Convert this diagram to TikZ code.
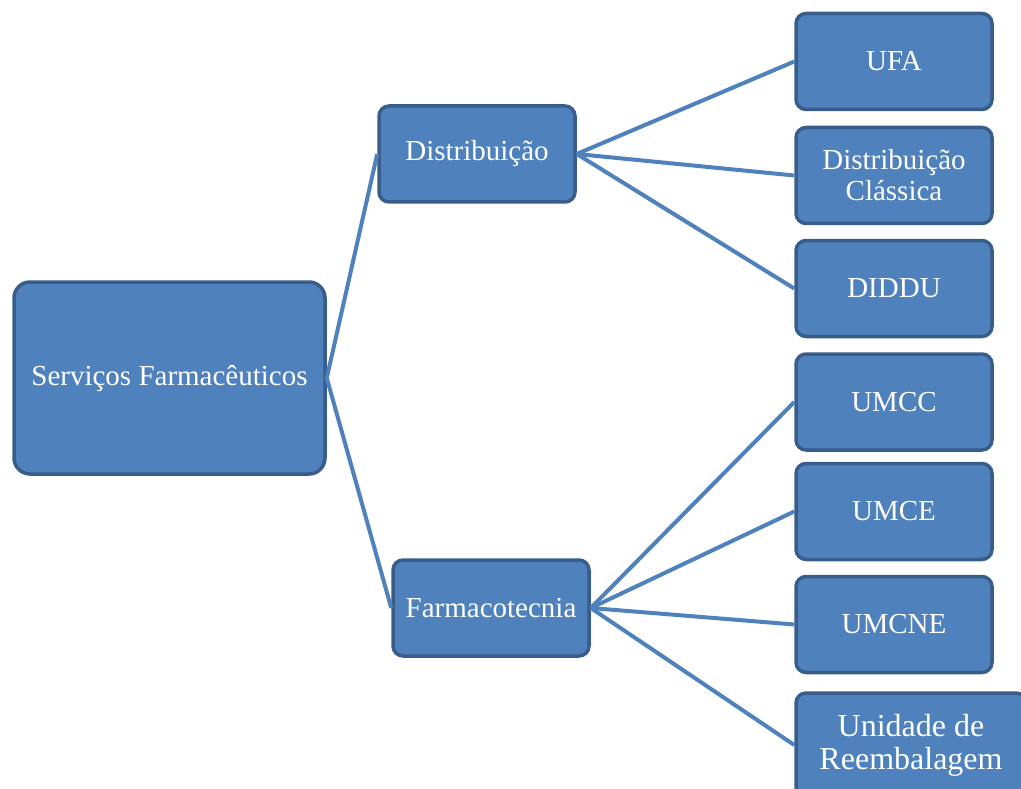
\documentclass[tikz,border=0pt]{standalone}
\usepackage{fontspec}
\setmainfont{Liberation Serif}
\usetikzlibrary{positioning}
\definecolor{boxblue}{RGB}{79,129,189}
\definecolor{boxedge}{RGB}{56,93,138}

\begin{document}
\begin{tikzpicture}[x=1pt, y=-1pt,
  unit/.style={draw=boxedge, fill=boxblue, line width=3.5pt, rounded corners=10pt,
    text=white, align=center, inner sep=0pt, minimum width=196pt, minimum height=96pt,
    font=\fontsize{29}{31}\selectfont},
  link/.style={draw=boxblue, line width=4pt}]
\useasboundingbox (0,0) rectangle (1021,789);
% Root and second level
\node[unit, minimum width=311pt, minimum height=192pt, rounded corners=16pt] (servicos) at (169.5,378) {Serviços Farmacêuticos};
\node[unit] (distrib) at (477,154) {Distribuição};
\node[unit] (farmaco) at (491,608) {Farmacotecnia};
% Units of Distribuição
\node[unit] (ufa) at (894,61.5) {UFA};
\node[unit] (classica) at (894,175.5) {Distribuição\\Clássica};
\node[unit] (diddu) at (894,288.5) {DIDDU};
% Units of Farmacotecnia
\node[unit] (umcc) at (894,402) {UMCC};
\node[unit] (umce) at (894,511.5) {UMCE};
\node[unit] (umcne) at (894,624.5) {UMCNE};
\node[unit, minimum width=230pt, minimum height=104pt, font=\fontsize{32}{33}\selectfont] (reemb) at (911,745) {Unidade de\\Reembalagem};
% Connectors
\draw[link] (servicos.east) -- (distrib.west);
\draw[link] (servicos.east) -- (farmaco.west);
\foreach \t in {ufa,classica,diddu} {\draw[link] (distrib.east) -- (\t.west);}
\foreach \t in {umcc,umce,umcne,reemb} {\draw[link] (farmaco.east) -- (\t.west);}
\end{tikzpicture}
\end{document}
